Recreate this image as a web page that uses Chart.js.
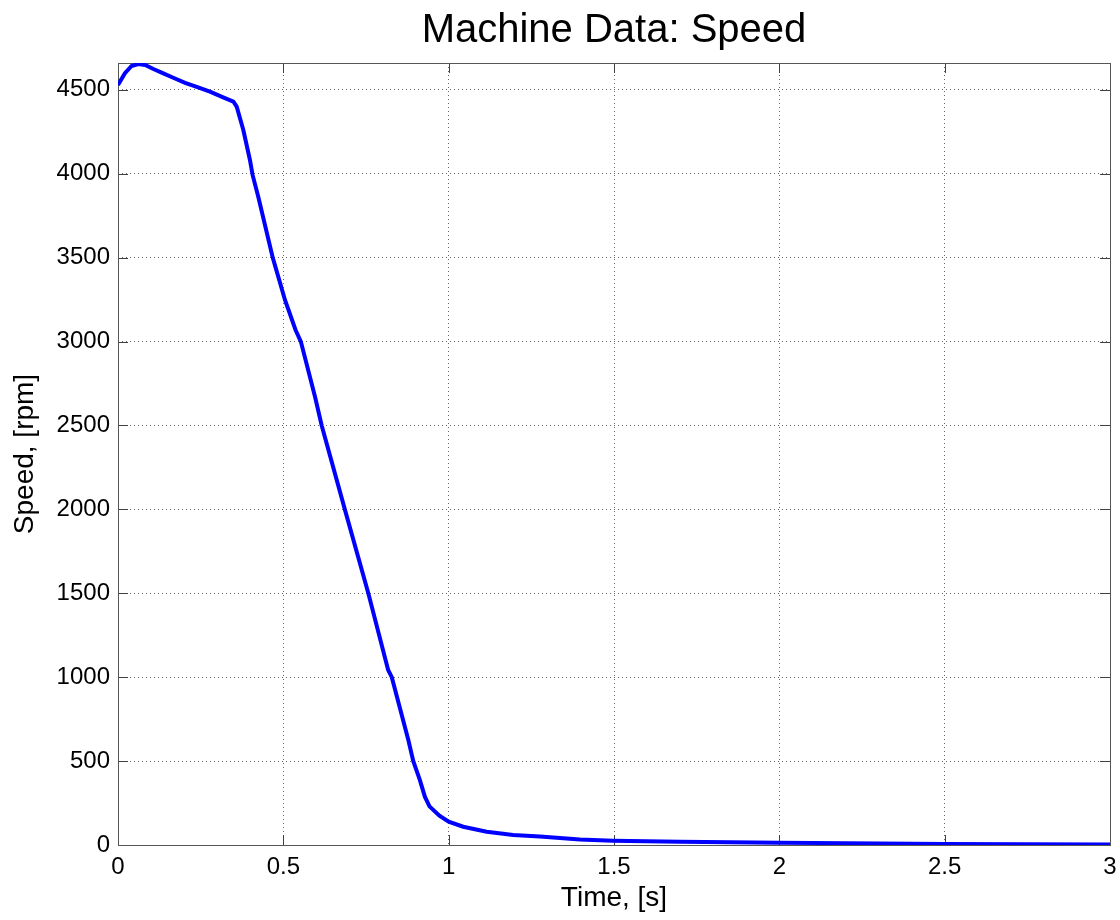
<!DOCTYPE html>
<html>
<head>
<meta charset="utf-8">
<title>Machine Data: Speed</title>
<script src="https://cdn.jsdelivr.net/npm/chart.js@4/dist/chart.umd.min.js"></script>
<style>
  html, body { margin: 0; padding: 0; background: #fff; }
  #wrap { width: 1120px; height: 920px; }
</style>
</head>
<body>
<div id="wrap"><canvas id="speedChart" width="1120" height="920"></canvas></div>
<script>
'use strict';

// time [s] and speed [rpm]
const timeS = [
  0, 0.021, 0.041, 0.061, 0.082, 0.107, 0.137, 0.167, 0.203, 0.238,
  0.278, 0.318, 0.349, 0.359, 0.379, 0.399, 0.407, 0.424, 0.468, 0.505,
  0.537, 0.553, 0.596, 0.616, 0.686, 0.757, 0.817, 0.828, 0.878, 0.893,
  0.913, 0.928, 0.942, 0.972, 1.0, 1.044, 1.115, 1.195, 1.276, 1.397,
  1.497, 1.7, 2.0, 2.5, 3.0
];
const speedRpm = [
  4529, 4599, 4642, 4654, 4648, 4624, 4598, 4572, 4542, 4518,
  4489, 4455, 4430, 4400, 4261, 4082, 3993, 3864, 3500, 3248,
  3069, 3000, 2670, 2500, 2000, 1500, 1043, 1000, 626, 500,
  387, 288, 230, 175, 139, 109, 79, 60, 50, 33,
  26, 20, 14, 6, 3
];
const xTicks = [0, 0.5, 1, 1.5, 2, 2.5, 3];
const yTicks = [0, 500, 1000, 1500, 2000, 2500, 3000, 3500, 4000, 4500];

const FONT = 'Liberation Sans, Arial, Helvetica, sans-serif';
const TICK_LEN = 10;

const points = timeS.map((t, i) => ({ x: t, y: speedRpm[i] }));

// MATLAB style box with inward tick marks on all four sides
const boxPlugin = {
  id: 'matlabBox',
  beforeDatasetsDraw(chart) {
    const { ctx, chartArea: a, scales } = chart;
    ctx.save();
    ctx.strokeStyle = '#404040';
    ctx.lineWidth = 1;
    ctx.beginPath();
    xTicks.forEach((v) => {
      const px = Math.round(scales.x.getPixelForValue(v)) + 0.5;
      ctx.moveTo(px, a.bottom); ctx.lineTo(px, a.bottom - TICK_LEN);
      ctx.moveTo(px, a.top); ctx.lineTo(px, a.top + TICK_LEN);
    });
    yTicks.forEach((v) => {
      const py = Math.round(scales.y.getPixelForValue(v)) + 0.5;
      ctx.moveTo(a.left, py); ctx.lineTo(a.left + TICK_LEN, py);
      ctx.moveTo(a.right, py); ctx.lineTo(a.right - TICK_LEN, py);
    });
    ctx.stroke();
    ctx.strokeStyle = '#555';
    ctx.strokeRect(Math.round(a.left) + 0.5, Math.round(a.top) + 0.5,
      Math.round(a.right - a.left), Math.round(a.bottom - a.top));
    ctx.restore();
  }
};

new Chart(document.getElementById('speedChart'), {
  type: 'line',
  data: {
    datasets: [{
      data: points,
      borderColor: '#0000ff',
      borderWidth: 4,
      pointRadius: 0,
      tension: 0,
      fill: false
    }]
  },
  options: {
    responsive: false,
    animation: false,
    layout: { padding: { left: 0, right: 10, top: 0, bottom: 0 } },
    plugins: {
      legend: { display: false },
      tooltip: { enabled: false },
      title: {
        display: true,
        fullSize: false,
        text: 'Machine Data: Speed',
        color: '#000',
        font: { family: FONT, size: 40, weight: 'normal', lineHeight: 1.2 },
        padding: { top: 7, bottom: 8 }
      }
    },
    scales: {
      x: {
        type: 'linear',
        min: 0,
        max: 3,
        afterBuildTicks: (scale) => { scale.ticks = xTicks.map((v) => ({ value: v })); },
        afterFit: (scale) => {
          scale.height = 75;
          scale.paddingLeft = 0;
          scale.paddingRight = 0;
        },
        ticks: {
          color: '#000',
          padding: 8,
          maxRotation: 0,
          font: { family: FONT, size: 24 },
          callback: (v) => String(v)
        },
        grid: { color: 'rgba(0,0,0,0.6)', lineWidth: 1, drawTicks: false },
        border: { display: false, dash: [1, 3] },
        title: {
          display: true,
          text: 'Time, [s]',
          color: '#000',
          font: { family: FONT, size: 28, lineHeight: 1.2 },
          padding: { top: 0, bottom: 5 }
        }
      },
      y: {
        type: 'linear',
        min: 0,
        max: 4660,
        afterBuildTicks: (scale) => { scale.ticks = yTicks.map((v) => ({ value: v })); },
        afterFit: (scale) => { scale.width = 118; },
        ticks: {
          color: '#000',
          padding: 8,
          font: { family: FONT, size: 24 },
          callback: (v) => String(v)
        },
        grid: { color: 'rgba(0,0,0,0.6)', lineWidth: 1, drawTicks: false },
        border: { display: false, dash: [1, 3] },
        title: {
          display: true,
          text: 'Speed, [rpm]',
          color: '#000',
          font: { family: FONT, size: 28, lineHeight: 1.2 },
          padding: { top: 8, bottom: 0 }
        }
      }
    }
  },
  plugins: [boxPlugin]
});
</script>
</body>
</html>
